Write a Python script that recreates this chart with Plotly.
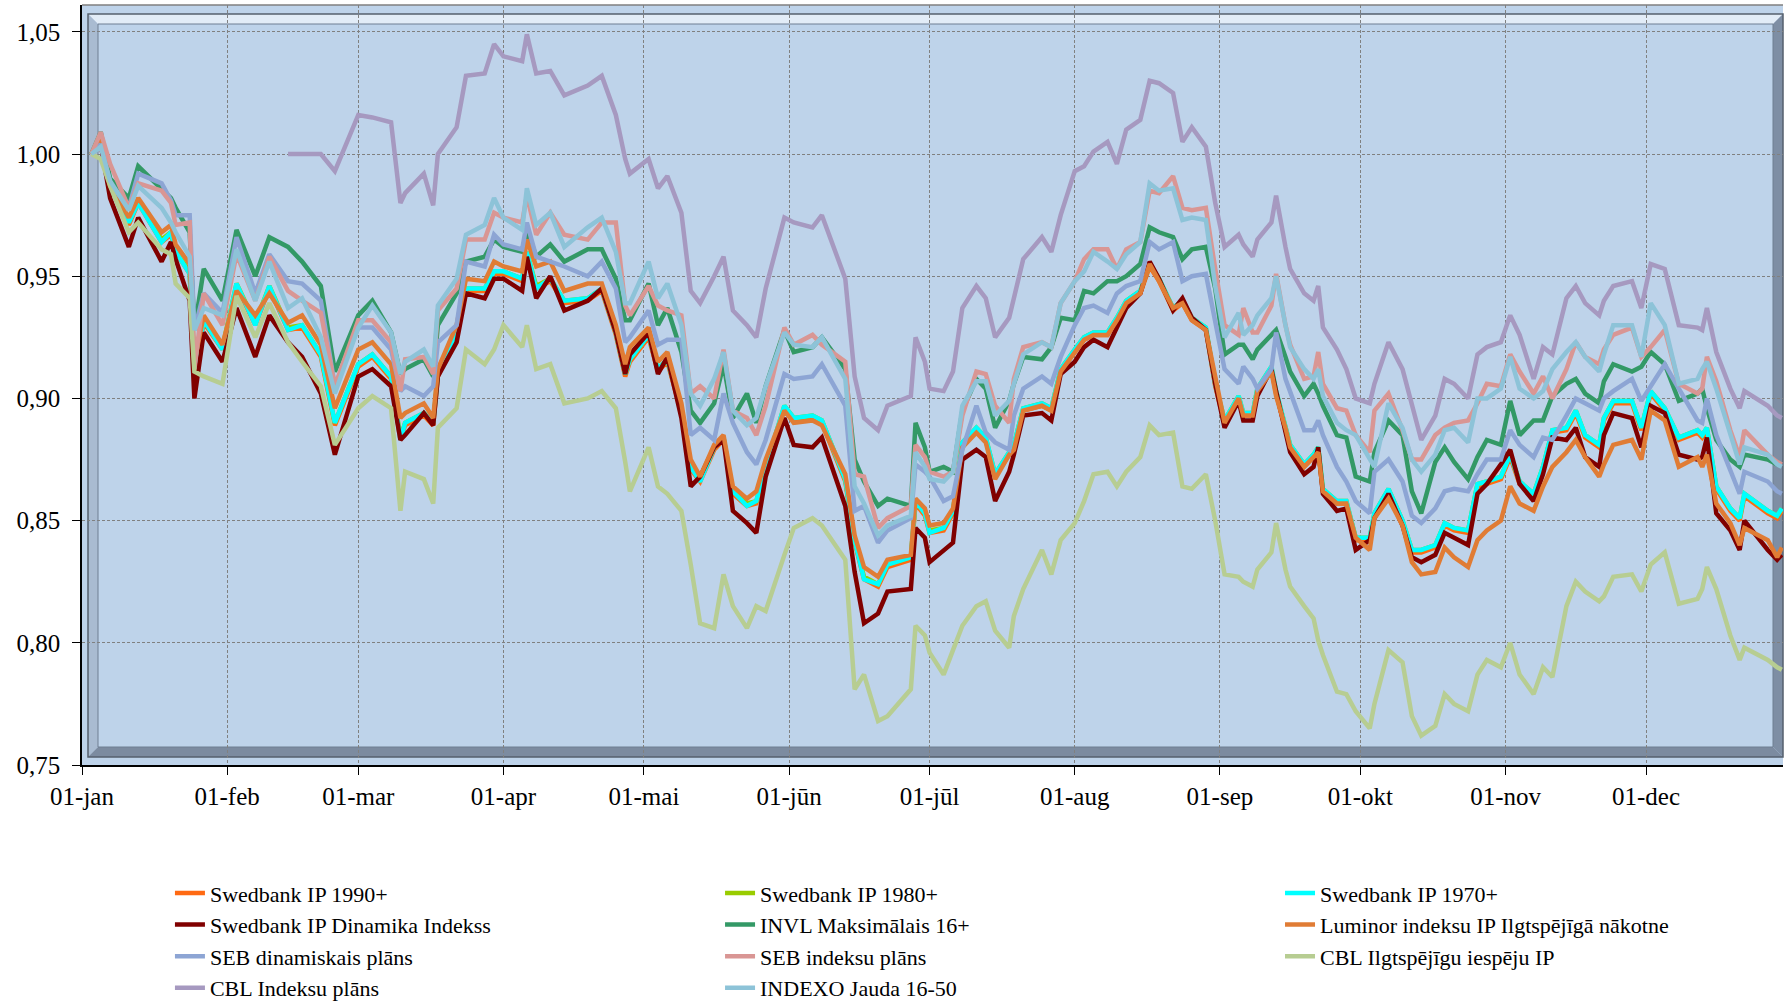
import plotly.graph_objects as go

# trading days used as sample points (2022), per month
days = {
    1: [3, 5, 7, 11, 13, 18, 20, 21, 24, 25, 27, 31],
    2: [3, 7, 10, 14, 17, 21, 24],
    3: [1, 4, 8, 10, 11, 15, 17, 18, 22, 24, 28, 30],
    4: [1, 5, 6, 8, 11, 14, 19, 22, 25, 27, 28],
    5: [2, 4, 6, 9, 11, 13, 16, 18, 20, 23, 25, 27, 31],
    6: [2, 6, 8, 13, 15, 17, 20, 22, 27, 28, 30],
    7: [1, 4, 6, 8, 11, 13, 15, 18, 19, 21, 25, 27, 29],
    8: [1, 3, 5, 8, 10, 12, 15, 17, 19, 22, 24, 26, 29, 31],
    9: [2, 5, 6, 8, 9, 12, 13, 15, 16, 19, 21, 22, 23, 26, 28, 30],
    10: [3, 4, 7, 10, 12, 14, 17, 19, 21, 24, 26, 28, 31],
    11: [2, 4, 7, 9, 11, 14, 16, 18, 21, 22, 24, 28, 30],
    12: [2, 5, 8, 12, 13, 14, 16, 19, 21, 22, 27, 29, 30],
}
dates = [f"2022-{m:02d}-{d:02d}" for m in days for d in days[m]]

month_ticks = [f"2022-{m:02d}-01" for m in range(1, 13)]
month_labels = ["01-jan", "01-feb", "01-mar", "01-apr", "01-mai", "01-jūn",
                "01-jūl", "01-aug", "01-sep", "01-okt", "01-nov", "01-dec"]

swed_1970 = [
    1.000, 1.006, 0.987, 0.972, 0.980, 0.964, 0.968, 0.960, 0.951, 0.912, 0.932, 0.920,
    0.947, 0.930, 0.946, 0.928, 0.930, 0.918, 0.890,
    0.914, 0.918, 0.909, 0.883, 0.890, 0.894, 0.890, 0.910, 0.927, 0.945, 0.945, 0.952,
    0.952, 0.949, 0.960, 0.945, 0.949, 0.940, 0.941, 0.945, 0.927, 0.910, 0.916,
    0.926, 0.912, 0.916, 0.895, 0.872, 0.866, 0.880, 0.884, 0.862, 0.856, 0.858, 0.872, 0.897,
    0.892, 0.893, 0.891, 0.867, 0.842, 0.826, 0.824, 0.832, 0.835, 0.858, 0.853,
    0.845, 0.847, 0.854, 0.882, 0.888, 0.884, 0.869, 0.878, 0.881, 0.896, 0.898, 0.896, 0.912,
    0.920, 0.925, 0.927, 0.927, 0.933, 0.940, 0.944, 0.955, 0.949, 0.937, 0.940, 0.933, 0.929, 0.906,
    0.891, 0.901, 0.894, 0.894, 0.904, 0.913, 0.903, 0.889, 0.881, 0.873, 0.877, 0.880, 0.863, 0.858, 0.858, 0.843,
    0.843, 0.853, 0.863, 0.850, 0.838, 0.838, 0.840, 0.849, 0.847, 0.846, 0.865, 0.866, 0.868,
    0.877, 0.866, 0.861, 0.872, 0.887, 0.888, 0.895, 0.885, 0.881, 0.892, 0.899, 0.899, 0.888,
    0.903, 0.896, 0.884, 0.887, 0.885, 0.888, 0.864, 0.855, 0.851, 0.861, 0.854, 0.852, 0.855,
]
swed_1980 = [
    1.000, 1.006, 0.987, 0.972, 0.981, 0.965, 0.968, 0.960, 0.952, 0.912, 0.932, 0.921,
    0.947, 0.931, 0.946, 0.929, 0.930, 0.918, 0.890,
    0.914, 0.918, 0.909, 0.884, 0.890, 0.894, 0.890, 0.910, 0.927, 0.945, 0.945, 0.952,
    0.952, 0.949, 0.960, 0.946, 0.949, 0.940, 0.941, 0.945, 0.927, 0.910, 0.916,
    0.926, 0.912, 0.916, 0.895, 0.872, 0.867, 0.880, 0.884, 0.862, 0.857, 0.858, 0.872, 0.897,
    0.892, 0.893, 0.891, 0.867, 0.842, 0.827, 0.824, 0.832, 0.835, 0.858, 0.853,
    0.846, 0.847, 0.854, 0.882, 0.888, 0.884, 0.869, 0.878, 0.881, 0.896, 0.898, 0.896, 0.912,
    0.920, 0.925, 0.927, 0.927, 0.933, 0.940, 0.944, 0.955, 0.949, 0.937, 0.940, 0.933, 0.929, 0.906,
    0.891, 0.901, 0.894, 0.894, 0.904, 0.913, 0.903, 0.889, 0.881, 0.873, 0.877, 0.880, 0.863, 0.858, 0.858, 0.843,
    0.843, 0.853, 0.863, 0.850, 0.838, 0.838, 0.840, 0.849, 0.847, 0.846, 0.865, 0.866, 0.868,
    0.877, 0.866, 0.861, 0.872, 0.887, 0.888, 0.895, 0.885, 0.881, 0.892, 0.899, 0.899, 0.888,
    0.903, 0.896, 0.884, 0.887, 0.885, 0.888, 0.864, 0.855, 0.851, 0.861, 0.854, 0.852, 0.855,
]
swed_1990 = [
    1.000, 1.006, 0.987, 0.971, 0.980, 0.964, 0.967, 0.960, 0.951, 0.911, 0.931, 0.920,
    0.946, 0.930, 0.945, 0.928, 0.929, 0.917, 0.889,
    0.913, 0.917, 0.908, 0.883, 0.889, 0.893, 0.889, 0.909, 0.926, 0.944, 0.944, 0.951,
    0.951, 0.948, 0.959, 0.945, 0.948, 0.939, 0.940, 0.944, 0.926, 0.909, 0.915,
    0.925, 0.911, 0.915, 0.894, 0.871, 0.866, 0.879, 0.883, 0.861, 0.856, 0.857, 0.871, 0.896,
    0.891, 0.892, 0.890, 0.866, 0.841, 0.826, 0.823, 0.831, 0.834, 0.857, 0.852,
    0.845, 0.846, 0.853, 0.881, 0.887, 0.883, 0.868, 0.877, 0.880, 0.895, 0.897, 0.895, 0.911,
    0.919, 0.924, 0.926, 0.926, 0.932, 0.939, 0.943, 0.954, 0.948, 0.936, 0.939, 0.932, 0.928, 0.905,
    0.890, 0.900, 0.893, 0.893, 0.903, 0.912, 0.902, 0.888, 0.880, 0.872, 0.876, 0.879, 0.862, 0.857, 0.857, 0.842,
    0.842, 0.852, 0.862, 0.849, 0.837, 0.837, 0.839, 0.848, 0.846, 0.845, 0.864, 0.865, 0.867,
    0.876, 0.865, 0.860, 0.871, 0.886, 0.887, 0.894, 0.884, 0.880, 0.891, 0.898, 0.898, 0.887,
    0.902, 0.895, 0.883, 0.886, 0.884, 0.887, 0.863, 0.854, 0.850, 0.860, 0.853, 0.851, 0.854,
]
swed_dinamika = [
    1.000, 1.004, 0.982, 0.962, 0.974, 0.956, 0.964, 0.957, 0.940, 0.900, 0.927, 0.915,
    0.937, 0.917, 0.934, 0.923, 0.917, 0.902, 0.877,
    0.909, 0.912, 0.905, 0.883, 0.885, 0.894, 0.889, 0.909, 0.923, 0.943, 0.941, 0.949,
    0.949, 0.944, 0.958, 0.941, 0.950, 0.936, 0.940, 0.945, 0.927, 0.910, 0.918,
    0.927, 0.910, 0.917, 0.892, 0.864, 0.868, 0.880, 0.883, 0.854, 0.849, 0.845, 0.868, 0.892,
    0.881, 0.880, 0.884, 0.856, 0.829, 0.808, 0.812, 0.821, 0.822, 0.847, 0.843,
    0.833, 0.838, 0.841, 0.875, 0.879, 0.876, 0.858, 0.870, 0.877, 0.893, 0.894, 0.891, 0.910,
    0.915, 0.921, 0.924, 0.921, 0.929, 0.937, 0.943, 0.956, 0.949, 0.936, 0.941, 0.933, 0.928, 0.906,
    0.888, 0.899, 0.891, 0.891, 0.901, 0.912, 0.903, 0.887, 0.878, 0.869, 0.872, 0.880, 0.861, 0.854, 0.855, 0.838,
    0.842, 0.851, 0.861, 0.848, 0.835, 0.833, 0.836, 0.845, 0.843, 0.840, 0.861, 0.865, 0.873,
    0.879, 0.865, 0.858, 0.869, 0.884, 0.883, 0.888, 0.876, 0.872, 0.885, 0.894, 0.892, 0.880,
    0.897, 0.894, 0.877, 0.875, 0.876, 0.884, 0.853, 0.846, 0.838, 0.850, 0.838, 0.834, 0.836,
]
invl_16 = [
    1.000, 1.009, 0.990, 0.982, 0.995, 0.986, 0.982, 0.978, 0.968, 0.928, 0.953, 0.940,
    0.969, 0.950, 0.966, 0.962, 0.956, 0.946, 0.911,
    0.934, 0.940, 0.927, 0.910, 0.912, 0.916, 0.909, 0.930, 0.943, 0.956, 0.958, 0.965,
    0.962, 0.960, 0.969, 0.958, 0.963, 0.956, 0.961, 0.961, 0.949, 0.932, 0.932,
    0.947, 0.930, 0.937, 0.919, 0.895, 0.890, 0.898, 0.914, 0.892, 0.902, 0.890, 0.905, 0.928,
    0.919, 0.921, 0.925, 0.912, 0.875, 0.866, 0.856, 0.859, 0.856, 0.890, 0.880,
    0.870, 0.872, 0.870, 0.895, 0.908, 0.904, 0.888, 0.899, 0.906, 0.917, 0.916, 0.921, 0.933,
    0.932, 0.944, 0.943, 0.948, 0.948, 0.950, 0.955, 0.970, 0.968, 0.966, 0.957, 0.961, 0.962, 0.945,
    0.918, 0.922, 0.922, 0.916, 0.920, 0.926, 0.928, 0.917, 0.911, 0.901, 0.906, 0.902, 0.897, 0.885, 0.884, 0.868,
    0.866, 0.878, 0.891, 0.885, 0.862, 0.853, 0.874, 0.880, 0.874, 0.867, 0.876, 0.883, 0.881,
    0.899, 0.885, 0.891, 0.891, 0.901, 0.906, 0.908, 0.902, 0.898, 0.907, 0.914, 0.911, 0.913,
    0.919, 0.914, 0.899, 0.902, 0.904, 0.896, 0.883, 0.875, 0.872, 0.877, 0.875, 0.873, 0.873,
]
luminor = [
    1.000, 1.006, 0.987, 0.974, 0.982, 0.968, 0.971, 0.963, 0.955, 0.915, 0.934, 0.922,
    0.944, 0.934, 0.943, 0.931, 0.934, 0.922, 0.896,
    0.920, 0.923, 0.914, 0.892, 0.894, 0.898, 0.892, 0.912, 0.930, 0.949, 0.948, 0.956,
    0.954, 0.952, 0.965, 0.954, 0.956, 0.944, 0.947, 0.947, 0.930, 0.914, 0.921,
    0.929, 0.915, 0.919, 0.898, 0.875, 0.868, 0.881, 0.885, 0.864, 0.859, 0.862, 0.875, 0.895,
    0.890, 0.891, 0.889, 0.869, 0.844, 0.831, 0.827, 0.834, 0.836, 0.859, 0.855,
    0.848, 0.849, 0.855, 0.880, 0.886, 0.882, 0.867, 0.877, 0.879, 0.895, 0.897, 0.895, 0.911,
    0.919, 0.924, 0.926, 0.926, 0.932, 0.939, 0.943, 0.955, 0.948, 0.937, 0.939, 0.932, 0.928, 0.908,
    0.890, 0.900, 0.893, 0.893, 0.903, 0.911, 0.901, 0.888, 0.880, 0.872, 0.876, 0.878, 0.862, 0.857, 0.857, 0.843,
    0.838, 0.851, 0.859, 0.848, 0.833, 0.828, 0.829, 0.839, 0.835, 0.831, 0.842, 0.846, 0.850,
    0.864, 0.857, 0.854, 0.864, 0.872, 0.878, 0.883, 0.876, 0.868, 0.873, 0.881, 0.883, 0.875,
    0.895, 0.891, 0.872, 0.876, 0.872, 0.877, 0.857, 0.849, 0.840, 0.847, 0.842, 0.835, 0.839,
]
seb_dinamiskais = [
    1.000, 1.004, 0.988, 0.978, 0.992, 0.988, 0.981, 0.975, 0.975, 0.928, 0.943, 0.935,
    0.966, 0.943, 0.959, 0.948, 0.947, 0.940, 0.905,
    0.929, 0.929, 0.920, 0.903, 0.905, 0.901, 0.905, 0.923, 0.930, 0.956, 0.954, 0.967,
    0.963, 0.961, 0.972, 0.958, 0.956, 0.954, 0.950, 0.956, 0.945, 0.923, 0.925,
    0.936, 0.922, 0.924, 0.924, 0.885, 0.888, 0.883, 0.902, 0.890, 0.878, 0.873, 0.883, 0.910,
    0.908, 0.909, 0.914, 0.897, 0.854, 0.856, 0.841, 0.846, 0.851, 0.873, 0.870,
    0.868, 0.858, 0.860, 0.879, 0.897, 0.886, 0.882, 0.879, 0.893, 0.904, 0.909, 0.906, 0.917,
    0.930, 0.937, 0.938, 0.935, 0.943, 0.946, 0.948, 0.964, 0.961, 0.964, 0.948, 0.950, 0.951, 0.932,
    0.912, 0.906, 0.913, 0.908, 0.904, 0.912, 0.927, 0.908, 0.903, 0.887, 0.887, 0.891, 0.885, 0.872, 0.866, 0.858,
    0.853, 0.870, 0.875, 0.866, 0.852, 0.849, 0.855, 0.862, 0.863, 0.862, 0.869, 0.875, 0.875,
    0.887, 0.881, 0.876, 0.884, 0.883, 0.893, 0.900, 0.898, 0.895, 0.900, 0.903, 0.908, 0.899,
    0.905, 0.914, 0.904, 0.891, 0.890, 0.900, 0.885, 0.870, 0.861, 0.870, 0.866, 0.862, 0.861,
]
seb_indeksu = [
    1.000, 1.009, 0.996, 0.978, 0.988, 0.985, 0.980, 0.971, 0.972, 0.912, 0.943, 0.930,
    0.959, 0.940, 0.958, 0.944, 0.940, 0.935, 0.905,
    0.932, 0.932, 0.923, 0.903, 0.916, 0.917, 0.910, 0.936, 0.945, 0.965, 0.965, 0.976,
    0.974, 0.972, 0.983, 0.967, 0.976, 0.967, 0.965, 0.972, 0.972, 0.938, 0.934,
    0.946, 0.938, 0.936, 0.934, 0.902, 0.905, 0.900, 0.920, 0.895, 0.892, 0.885, 0.897, 0.929,
    0.922, 0.926, 0.922, 0.915, 0.869, 0.868, 0.847, 0.851, 0.856, 0.881, 0.876,
    0.870, 0.868, 0.870, 0.893, 0.911, 0.910, 0.897, 0.890, 0.908, 0.921, 0.923, 0.921, 0.939,
    0.948, 0.957, 0.961, 0.961, 0.953, 0.961, 0.964, 0.985, 0.984, 0.991, 0.978, 0.977, 0.978, 0.953,
    0.930, 0.926, 0.937, 0.927, 0.927, 0.938, 0.951, 0.930, 0.922, 0.908, 0.909, 0.919, 0.906, 0.896, 0.895, 0.885,
    0.878, 0.895, 0.902, 0.887, 0.875, 0.875, 0.885, 0.888, 0.890, 0.891, 0.898, 0.906, 0.905,
    0.918, 0.911, 0.902, 0.909, 0.900, 0.912, 0.923, 0.917, 0.914, 0.920, 0.926, 0.929, 0.917,
    0.921, 0.928, 0.906, 0.902, 0.904, 0.917, 0.907, 0.887, 0.876, 0.887, 0.877, 0.874, 0.873,
]
cbl_ilgtspejigu = [
    1.000, 0.998, 0.987, 0.968, 0.972, 0.961, 0.959, 0.947, 0.941, 0.911, 0.909, 0.906,
    0.942, 0.925, 0.939, 0.923, 0.915, 0.905, 0.881,
    0.896, 0.901, 0.896, 0.854, 0.870, 0.867, 0.857, 0.888, 0.896, 0.920, 0.914, 0.920,
    0.930, 0.921, 0.930, 0.912, 0.914, 0.898, 0.900, 0.903, 0.896, 0.874, 0.862,
    0.880, 0.864, 0.861, 0.854, 0.832, 0.808, 0.806, 0.828, 0.815, 0.806, 0.815, 0.813, 0.836,
    0.847, 0.851, 0.848, 0.834, 0.781, 0.787, 0.768, 0.770, 0.781, 0.807, 0.803,
    0.796, 0.787, 0.797, 0.807, 0.815, 0.817, 0.805, 0.798, 0.811, 0.822, 0.838, 0.828, 0.842,
    0.849, 0.858, 0.869, 0.870, 0.864, 0.870, 0.876, 0.889, 0.885, 0.886, 0.864, 0.863, 0.869, 0.850,
    0.828, 0.827, 0.825, 0.823, 0.830, 0.837, 0.849, 0.830, 0.823, 0.815, 0.810, 0.801, 0.795, 0.780, 0.779, 0.772,
    0.765, 0.775, 0.797, 0.792, 0.770, 0.762, 0.766, 0.779, 0.775, 0.772, 0.787, 0.793, 0.790,
    0.800, 0.787, 0.779, 0.790, 0.786, 0.815, 0.825, 0.821, 0.817, 0.819, 0.827, 0.828, 0.821,
    0.832, 0.837, 0.816, 0.818, 0.822, 0.831, 0.822, 0.803, 0.793, 0.798, 0.793, 0.790, 0.789,
]
# fund only starts mid-February
cbl_indeksu = [
    None, None, None, None, None, None, None, None, None, None, None, None,
    None, None, None, 1.000, 1.000, 1.000, 0.993,
    1.016, 1.015, 1.013, 0.980, 0.984, 0.992, 0.979, 1.000, 1.011, 1.032, 1.033, 1.045,
    1.040, 1.038, 1.049, 1.033, 1.034, 1.024, 1.028, 1.032, 1.016, 0.998, 0.992,
    0.998, 0.986, 0.991, 0.976, 0.944, 0.939, 0.950, 0.958, 0.936, 0.930, 0.925, 0.945, 0.974,
    0.972, 0.970, 0.975, 0.949, 0.909, 0.892, 0.887, 0.897, 0.901, 0.925, 0.915,
    0.904, 0.903, 0.911, 0.937, 0.946, 0.941, 0.925, 0.933, 0.941, 0.957, 0.966, 0.960, 0.975,
    0.993, 0.995, 1.001, 1.005, 0.996, 1.010, 1.014, 1.030, 1.029, 1.025, 1.005, 1.011, 1.003, 0.980,
    0.962, 0.967, 0.963, 0.958, 0.965, 0.972, 0.983, 0.962, 0.953, 0.943, 0.940, 0.946, 0.929, 0.920, 0.912, 0.900,
    0.898, 0.906, 0.923, 0.912, 0.898, 0.883, 0.893, 0.908, 0.906, 0.900, 0.918, 0.921, 0.923,
    0.934, 0.926, 0.908, 0.921, 0.918, 0.941, 0.946, 0.939, 0.934, 0.940, 0.946, 0.948, 0.937,
    0.955, 0.953, 0.930, 0.929, 0.928, 0.937, 0.919, 0.904, 0.896, 0.903, 0.897, 0.893, 0.892,
]
indexo = [
    1.000, 1.003, 0.989, 0.977, 0.987, 0.978, 0.972, 0.968, 0.958, 0.928, 0.937, 0.934,
    0.961, 0.940, 0.956, 0.937, 0.941, 0.925, 0.902,
    0.929, 0.938, 0.927, 0.910, 0.915, 0.920, 0.913, 0.938, 0.949, 0.967, 0.971, 0.982,
    0.974, 0.969, 0.986, 0.971, 0.976, 0.962, 0.970, 0.974, 0.960, 0.939, 0.939,
    0.956, 0.941, 0.947, 0.930, 0.902, 0.897, 0.908, 0.919, 0.895, 0.889, 0.892, 0.905, 0.927,
    0.922, 0.921, 0.925, 0.908, 0.864, 0.857, 0.844, 0.848, 0.852, 0.878, 0.872,
    0.867, 0.866, 0.870, 0.897, 0.907, 0.907, 0.893, 0.899, 0.906, 0.918, 0.923, 0.921, 0.939,
    0.948, 0.952, 0.960, 0.956, 0.953, 0.959, 0.964, 0.988, 0.985, 0.986, 0.973, 0.974, 0.973, 0.946,
    0.925, 0.935, 0.926, 0.930, 0.934, 0.941, 0.950, 0.930, 0.921, 0.912, 0.908, 0.912, 0.901, 0.890, 0.887, 0.885,
    0.875, 0.872, 0.898, 0.888, 0.875, 0.870, 0.877, 0.887, 0.888, 0.882, 0.900, 0.900, 0.904,
    0.917, 0.904, 0.900, 0.903, 0.912, 0.919, 0.923, 0.917, 0.911, 0.918, 0.930, 0.930, 0.917,
    0.939, 0.930, 0.906, 0.908, 0.912, 0.915, 0.904, 0.885, 0.873, 0.880, 0.877, 0.873, 0.872,
]

# (name, values, colour, legend column)
series = [
    ("Swedbank IP 1990+", swed_1990, "#FF6A13", "legend"),
    ("Swedbank IP 1980+", swed_1980, "#99CC00", "legend2"),
    ("Swedbank IP 1970+", swed_1970, "#00FFFF", "legend3"),
    ("Swedbank IP Dinamika Indekss", swed_dinamika, "#800000", "legend"),
    ("INVL Maksimālais 16+", invl_16, "#339966", "legend2"),
    ("Luminor indeksu IP Ilgtspējīgā nākotne", luminor, "#E07C35", "legend3"),
    ("SEB dinamiskais plāns", seb_dinamiskais, "#8DA5D4", "legend"),
    ("SEB indeksu plāns", seb_indeksu, "#D99694", "legend2"),
    ("CBL Ilgtspējīgu iespēju IP", cbl_ilgtspejigu, "#B7CD92", "legend3"),
    ("CBL Indeksu plāns", cbl_indeksu, "#A699C0", "legend"),
    ("INDEXO Jauda 16-50", indexo, "#8DC3D8", "legend2"),
]

fig = go.Figure()
for name, vals, col, leg in series:
    fig.add_trace(go.Scatter(x=dates, y=vals, name=name, mode="lines", legend=leg,
                             line=dict(color=col, width=4.5), connectgaps=False))

# beveled frame inside the plot area (Excel look)
W, H = 1701, 760
x0, x1 = 6 / W, 1.0
y0, y1 = 8 / H, 1 - 9 / H
bx, by = 10 / W, 10 / H


def poly(pts, fill):
    path = "M " + " L ".join(f"{px},{py}" for px, py in pts) + " Z"
    return dict(type="path", xref="x domain", yref="y domain", path=path,
                fillcolor=fill, line=dict(width=0), layer="below")


shapes = [
    poly([(x0, y1), (x1, y1), (x1 - bx, y1 - by), (x0 + bx, y1 - by)], "#E2ECF7"),
    poly([(x0, y0), (x0, y1), (x0 + bx, y1 - by), (x0 + bx, y0 + by)], "#A9BBD1"),
    poly([(x0, y0), (x1, y0), (x1 - bx, y0 + by), (x0 + bx, y0 + by)], "#7C8BA0"),
    poly([(x1, y0), (x1, y1), (x1 - bx, y1 - by), (x1 - bx, y0 + by)], "#7E8EA4"),
    dict(type="rect", xref="x domain", yref="y domain", x0=x0, x1=x1, y0=y0, y1=y1,
         line=dict(color="#55606D", width=1.5), layer="below"),
    dict(type="rect", xref="x domain", yref="y domain", x0=x0 + bx, x1=x1 - bx,
         y0=y0 + by, y1=y1 - by, line=dict(color="#6F7E92", width=1), layer="below"),
    dict(type="line", xref="x domain", yref="y domain", x0=0, x1=1, y0=1, y1=1,
         line=dict(color="#7F7F7F", width=1.5)),
]

serif = "Liberation Serif, Times New Roman, serif"
leg_font = dict(family=serif, size=22, color="black")
leg_y = -0.141


def legend_at(x):
    return dict(orientation="v", x=x, xanchor="left", y=leg_y, yanchor="top",
                font=leg_font, bgcolor="rgba(0,0,0,0)", borderwidth=0)


# figure is a bit taller than the window so the legend box never squeezes the
# plot area; the extra strip below is clipped away by the page
fig.update_layout(
    width=1785, height=1016,
    margin=dict(l=82, r=2, t=5, b=251),
    paper_bgcolor="white",
    plot_bgcolor="#BED3EA",
    separators=", ",
    font=dict(family=serif, color="black"),
    shapes=shapes,
    showlegend=True,
    legend=legend_at(0.0517),
    legend2=legend_at(0.3751),
    legend3=legend_at(0.7043),
    xaxis=dict(
        type="date", range=["2022-01-01", "2022-12-30 06:00"],
        tickmode="array", tickvals=month_ticks, ticktext=month_labels,
        showgrid=True, gridcolor="#808080", gridwidth=1, griddash="3px,2px",
        showline=True, linecolor="black", linewidth=1.5,
        ticks="outside", ticklen=8, tickcolor="black",
        tickfont=dict(family=serif, size=25, color="black"),
        zeroline=False,
    ),
    yaxis=dict(
        range=[0.75, 1.061], tick0=0.75, dtick=0.05, tickformat=".2f",
        showgrid=True, gridcolor="#808080", gridwidth=1, griddash="3px,2px",
        showline=True, linecolor="black", linewidth=1.5,
        ticks="outside", ticklen=8, tickcolor="black", ticklabelstandoff=7,
        tickfont=dict(family=serif, size=25, color="black"),
        zeroline=False,
    ),
)

page_js = (
    "document.body.style.margin='0';"
    "document.body.style.overflow='hidden';"
    "var g=document.getElementById('{plot_id}');"
    "g.style.height='1001px';g.style.overflow='hidden';"
)
fig.write_html("out.html", config={"displayModeBar": False}, post_script=page_js)
